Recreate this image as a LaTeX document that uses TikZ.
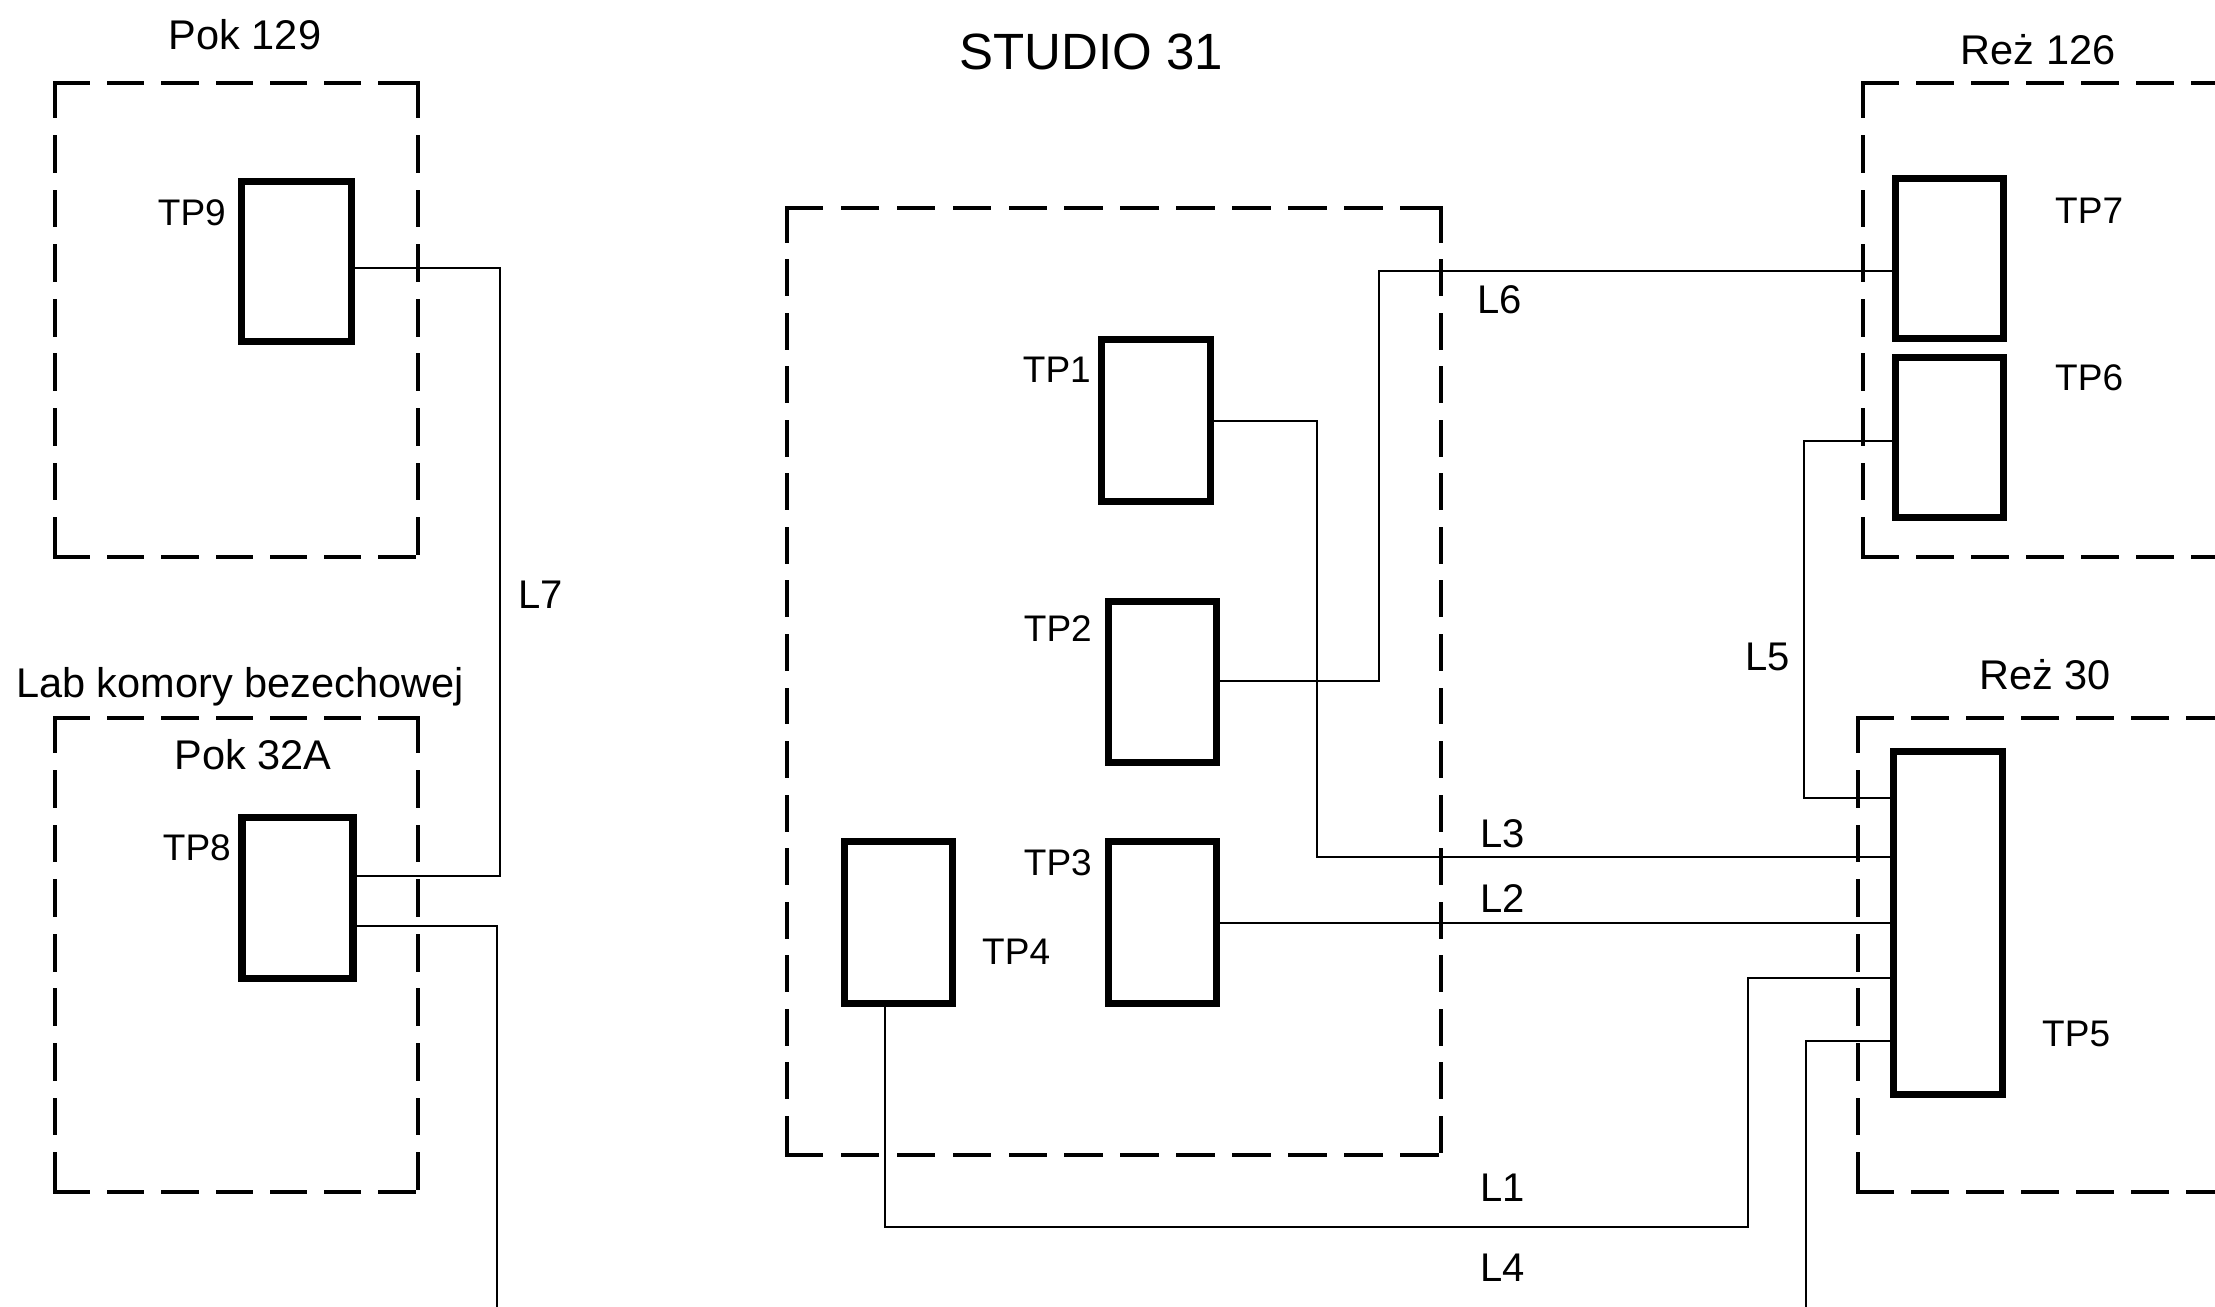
\documentclass[tikz,border=0pt]{standalone}
\usepackage{fontspec}
\setmainfont{Liberation Sans}
\usetikzlibrary{calc}
\tikzset{
  tpbox/.style={draw, line width=7.5pt, inner sep=0pt},
  roomline/.style={line width=4.5pt, line cap=rect},
  wire/.style={draw, line width=1.5pt},
  lbl/.style={inner sep=0pt, font=\fontsize{41.5}{50}\selectfont},
  llbl/.style={inner sep=0pt, font=\fontsize{40}{48}\selectfont},
  tplbl/.style={inner sep=0pt, font=\fontsize{37}{44}\selectfont},
  ttl/.style={inner sep=0pt, font=\fontsize{51}{60}\selectfont},
}
\newcommand\roomside[4]{%
  \pgfmathsetmacro\rsL{veclen(#3-#1,#4-#2)}%
  \pgfmathsetmacro\rsN{max(1,round((\rsL+17)/55))}%
  \pgfmathsetmacro\rsP{\rsL/(0.69*\rsN+0.31*(\rsN-1))}%
  \pgfmathsetmacro\rsOn{0.69*\rsP-4.5}%
  \pgfmathsetmacro\rsOff{0.31*\rsP+4.5}%
  \draw[roomline, dash pattern=on \rsOn pt off \rsOff pt] (#1,#2) -- (#3,#4);}
\newcommand\roomrect[4]{%
  \roomside{#1}{#2}{#3}{#2}%
  \roomside{#1}{#2}{#1}{#4}%
  \roomside{#1}{#4}{#3}{#4}%
  \roomside{#3}{#2}{#3}{#4}}
\begin{document}
\begin{tikzpicture}[x=1pt,y=-1pt]
\useasboundingbox (0,0) rectangle (2215,1306);
\clip (0,0) rectangle (2215,1306);
\fill[white] (0,0) rectangle (2215,1306);

% rooms
\roomrect{55}{83}{418}{557}
\roomrect{55}{718}{418}{1192}
\roomrect{787}{208}{1441}{1155}
\roomside{1863}{83}{1863}{557}
\draw[roomline, dash pattern=on 33.5pt off 21.5pt] (1863,83) -- (2300,83);
\draw[roomline, dash pattern=on 33.5pt off 21.5pt] (1863,557) -- (2300,557);
\roomside{1858}{718}{1858}{1192}
\draw[roomline, dash pattern=on 33.5pt off 21.5pt] (1858,718) -- (2300,718);
\draw[roomline, dash pattern=on 33.5pt off 21.5pt] (1858,1192) -- (2300,1192);

% terminal boxes
\node[tpbox, minimum width=110pt, minimum height=160pt] (tp9) at (296.5,261.5) {};
\node[tpbox, minimum width=111pt, minimum height=161pt] (tp8) at (297.5,898) {};
\node[tpbox, minimum width=109pt, minimum height=162pt] (tp1) at (1156,420.5) {};
\node[tpbox, minimum width=108pt, minimum height=161pt] (tp2) at (1162.5,682) {};
\node[tpbox, minimum width=108pt, minimum height=162pt] (tp3) at (1162.5,922.5) {};
\node[tpbox, minimum width=108pt, minimum height=162pt] (tp4) at (898.5,922.5) {};
\node[tpbox, minimum width=108pt, minimum height=160pt] (tp7) at (1949.5,258.5) {};
\node[tpbox, minimum width=108pt, minimum height=160pt] (tp6) at (1949.5,437.5) {};
\node[tpbox, minimum width=109pt, minimum height=343pt] (tp5) at (1948,923) {};

% wires
\coordinate (b7a) at (500,268); \coordinate (b7b) at (500,876);
\draw[wire] (b7a -| tp9.east) -- (b7a) -- (b7b) -- (b7b -| tp8.east);
\coordinate (b8a) at (497,926); \coordinate (b8b) at (497,1320);
\draw[wire] (b8a -| tp8.east) -- (b8a) -- (b8b);
\coordinate (b3a) at (1317,421); \coordinate (b3b) at (1317,857);
\draw[wire] (b3a -| tp1.east) -- (b3a) -- (b3b) -- (b3b -| tp5.west);
\coordinate (b6a) at (1379,681); \coordinate (b6b) at (1379,271);
\draw[wire] (b6a -| tp2.east) -- (b6a) -- (b6b) -- (b6b -| tp7.west);
\coordinate (b2) at (1600,923);
\draw[wire] (b2 -| tp3.east) -- (b2 -| tp5.west);
\coordinate (b1a) at (885,1227); \coordinate (b1b) at (1748,1227); \coordinate (b1c) at (1748,978);
\draw[wire] (b1a |- tp4.south) -- (b1a) -- (b1b) -- (b1c) -- (b1c -| tp5.west);
\coordinate (b4a) at (1806,1041); \coordinate (b4b) at (1806,1320);
\draw[wire] (b4a -| tp5.west) -- (b4a) -- (b4b);
\coordinate (b5a) at (1804,441); \coordinate (b5b) at (1804,798);
\draw[wire] (b5a -| tp6.west) -- (b5a) -- (b5b) -- (b5b -| tp5.west);

% room labels
\node[lbl, anchor=base] (tpok129) at (245,49) {Pok 129};
\node[lbl, anchor=base] (tlab) at (240,697) {Lab komory bezechowej};
\node[lbl, anchor=base] (tpok32) at (253,769) {Pok 32A};
\node[ttl, anchor=base] (tstudio) at (1091,70) {STUDIO 31};
\node[lbl, anchor=base] (trez126) at (2038,65) {Reż 126};
\node[lbl, anchor=base] (trez30) at (2045,689) {Reż 30};

% terminal labels
\node[tplbl, anchor=base east] (ltp9) at (226,225) {TP9};
\node[tplbl, anchor=base east] (ltp8) at (231,860) {TP8};
\node[tplbl, anchor=base east] (ltp1) at (1091,382) {TP1};
\node[tplbl, anchor=base east] (ltp2) at (1092,641) {TP2};
\node[tplbl, anchor=base east] (ltp3) at (1092,875) {TP3};
\node[tplbl, anchor=base west] (ltp4) at (982,964) {TP4};
\node[tplbl, anchor=base west] (ltp7) at (2055,223) {TP7};
\node[tplbl, anchor=base west] (ltp6) at (2055,390) {TP6};
\node[tplbl, anchor=base west] (ltp5) at (2042,1046) {TP5};

% line labels
\node[llbl, anchor=base west] (ll7) at (518,608) {L7};
\node[llbl, anchor=base west] (ll6) at (1477,313) {L6};
\node[llbl, anchor=base west] (ll3) at (1480,847) {L3};
\node[llbl, anchor=base west] (ll2) at (1480,912) {L2};
\node[llbl, anchor=base west] (ll1) at (1480,1201) {L1};
\node[llbl, anchor=base west] (ll4) at (1480,1281) {L4};
\node[llbl, anchor=base west] (ll5) at (1745,670) {L5};
\end{tikzpicture}
\end{document}
